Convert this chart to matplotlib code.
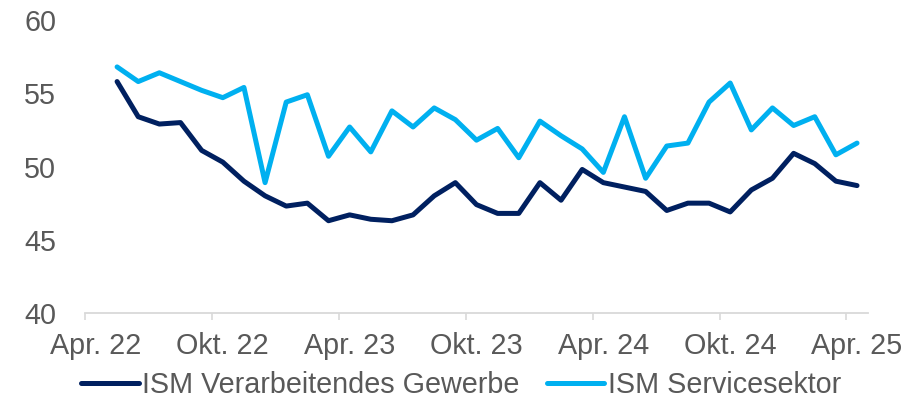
import matplotlib
matplotlib.use("Agg")
import matplotlib.pyplot as plt
import numpy as np

#-- Data: monthly ISM indices, May 22 - Apr 25

tick_labels = ["Apr. 22", "Okt. 22", "Apr. 23", "Okt. 23", "Apr. 24", "Okt. 24", "Apr. 25"]

ism_manufacturing = [55.8, 53.4, 52.9, 53.0, 51.1, 50.3, 49.0, 48.0, 47.3, 47.5,
                     46.3, 46.7, 46.4, 46.3, 46.7, 48.0, 48.9, 47.4, 46.8, 46.8,
                     48.9, 47.7, 49.8, 48.9, 48.6, 48.3, 47.0, 47.5, 47.5, 46.9,
                     48.4, 49.2, 50.9, 50.2, 49.0, 48.7]

ism_services = [56.8, 55.8, 56.4, 55.8, 55.2, 54.7, 55.4, 48.9, 54.4, 54.9,
                50.7, 52.7, 51.0, 53.8, 52.7, 54.0, 53.2, 51.8, 52.6, 50.6,
                53.1, 52.1, 51.2, 49.6, 53.4, 49.2, 51.4, 51.6, 54.4, 55.7,
                52.5, 54.0, 52.8, 53.4, 50.8, 51.6]

series_names = ["ISM Verarbeitendes Gewerbe", "ISM Servicesektor"]
colors = ["#002060", "#00B0F0"]

TEXT_COLOR = "#595959"
AXIS_COLOR = "#D9D9D9"
FONT_SIZE = 20.7


def main():
    plt.rcParams["font.family"] = ["Liberation Sans", "DejaVu Sans"]

    fig = plt.figure(figsize=(9.22, 4.04), dpi=100)
    ax = fig.add_axes([0.0926, 0.2252, 0.8484, 0.7252])

    # month 0 is Apr. 22 (no value), data starts in May 22
    x = np.arange(1, len(ism_manufacturing) + 1)
    for values, name, color in zip([ism_manufacturing, ism_services], series_names, colors):
        ax.plot(x, values, color=color, lw=3.6, label=name,
                solid_joinstyle="round", solid_capstyle="round")

    ax.set_ylim(40, 60)
    ax.set_yticks([40, 45, 50, 55, 60])
    ax.set_xlim(-0.5, 36.5)

    # labels sit on the months, tick marks between the months
    ax.set_xticks(np.arange(0, 37, 6))
    ax.set_xticklabels(tick_labels)
    ax.set_xticks(np.arange(-0.5, 36, 6), minor=True)
    ax.tick_params(axis="x", which="major", length=0, pad=14, labelsize=FONT_SIZE, colors=TEXT_COLOR)
    ax.tick_params(axis="x", which="minor", length=5, width=1.2, color=AXIS_COLOR, direction="out")
    ax.tick_params(axis="y", length=0, pad=21, labelsize=FONT_SIZE, colors=TEXT_COLOR)

    for side in ["top", "right", "left"]:
        ax.spines[side].set_visible(False)
    ax.spines["bottom"].set_color(AXIS_COLOR)
    ax.spines["bottom"].set_linewidth(1.3)

    handles, labels = ax.get_legend_handles_labels()
    fig.legend(handles, labels, loc="center", bbox_to_anchor=(0.5, 0.047), ncol=2,
               frameon=False, fontsize=FONT_SIZE, labelcolor=TEXT_COLOR,
               handlelength=2.0, handletextpad=0.12, columnspacing=0.95,
               borderpad=0, borderaxespad=0)

    fig.savefig("out.png", dpi=100)


if __name__ == "__main__":
    main()
